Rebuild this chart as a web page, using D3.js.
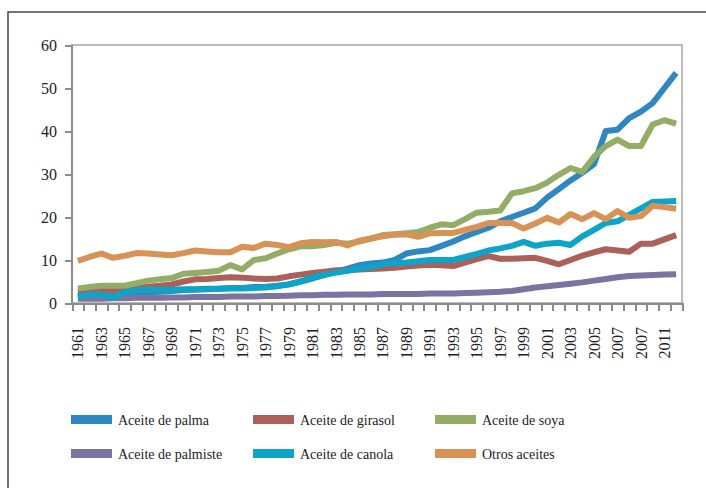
<!doctype html>
<html>

<head>
    <style>
        body {
            margin: 0;
            background: #fff;
        }

        text {
            font-family: "Liberation Serif", serif;
            fill: #222;
        }

        .axis path,
        .axis line {
            stroke: #8c8c8c;
            stroke-width: 2px;
            shape-rendering: crispEdges;
        }

        .axis text {
            font-size: 16px;
            fill: #222;
            font-family: "Liberation Serif", serif;
        }

        .series {
            fill: none;
            stroke-width: 6px;
            stroke-linejoin: round;
        }

        .legend text {
            font-size: 14px;
        }
    </style>
    <script src="https://d3js.org/d3.v7.min.js"></script>
</head>

<body>
    <script>
        // years on the category axis
        const years = d3.range(1961, 2013)
        // labelled years (the source repeats 2007 where 2009 should be)
        const labelYears = d3.range(1961, 2013, 2)
        const tickLabels = ["1961", "1963", "1965", "1967", "1969", "1971", "1973", "1975", "1977", "1979",
            "1981", "1983", "1985", "1987", "1989", "1991", "1993", "1995", "1997", "1999",
            "2001", "2003", "2005", "2007", "2007", "2011"]
        const yTicks = [0, 10, 20, 30, 40, 50, 60]

        const seriesNames = ["Aceite de palma", "Aceite de girasol", "Aceite de soya",
            "Aceite de palmiste", "Aceite de canola", "Otros aceites"]
        const seriesColors = ["#2e87c0", "#ad5f59", "#93ad67", "#7b73a0", "#0ca5c9", "#d99256"]

        const palma = [1.5, 1.7, 1.8, 1.9, 2.0, 2.3, 2.5, 2.6, 2.8, 3.0,
            3.1, 3.2, 3.3, 3.5, 3.5, 3.7, 3.8, 4.0, 4.3, 5.0,
            5.7, 6.5, 7.3, 8.0, 8.8, 9.2, 9.4, 10.0, 11.5, 12.0,
            12.3, 13.3, 14.3, 15.5, 16.5, 17.5, 19.0, 20.0, 21.0, 22.0,
            24.5, 26.5, 28.5, 30.3, 32.3, 40.0, 40.3, 43.0, 44.5, 46.5,
            50.0, 53.5]
        const girasol = [2.5, 2.8, 3.0, 3.0, 3.2, 3.5, 3.8, 4.0, 4.3, 5.0,
            5.5, 5.6, 5.8, 6.0, 5.9, 5.7, 5.6, 5.7, 6.2, 6.6,
            7.0, 7.3, 7.6, 7.6, 7.8, 7.9, 8.0, 8.2, 8.5, 8.7,
            8.9, 8.8, 8.6, 9.4, 10.2, 10.9, 10.3, 10.3, 10.4, 10.5,
            9.8, 9.0, 10.0, 11.0, 11.8, 12.5, 12.2, 11.9, 13.8, 13.8,
            14.8, 15.8]
        const soya = [3.4, 3.7, 4.0, 4.0, 4.0, 4.6, 5.2, 5.5, 5.8, 6.8,
            7.0, 7.2, 7.5, 8.8, 7.8, 10.0, 10.4, 11.5, 12.5, 13.2,
            13.2, 13.5, 14.0, 13.8, 14.3, 15.0, 15.8, 16.0, 16.2, 16.5,
            17.5, 18.3, 18.1, 19.5, 21.0, 21.2, 21.5, 25.5, 26.0, 26.7,
            28.0, 29.8, 31.4, 30.5, 34.0, 36.5, 38.0, 36.5, 36.5, 41.5,
            42.5, 41.7]
        const palmiste = [1.0, 1.0, 1.0, 1.1, 1.1, 1.2, 1.2, 1.2, 1.3, 1.3,
            1.4, 1.4, 1.4, 1.5, 1.5, 1.5, 1.6, 1.6, 1.7, 1.8,
            1.8, 1.9, 1.9, 2.0, 2.0, 2.0, 2.1, 2.1, 2.1, 2.1,
            2.2, 2.2, 2.2, 2.3, 2.4, 2.5, 2.6, 2.8, 3.2, 3.6,
            3.9, 4.2, 4.5, 4.8, 5.2, 5.6, 6.0, 6.3, 6.4, 6.5,
            6.6, 6.7]
        const canola = [1.5, 2.0, 2.0, 1.3, 2.5, 3.0, 3.1, 3.1, 3.1, 3.2,
            3.2, 3.3, 3.3, 3.4, 3.4, 3.5, 3.6, 3.9, 4.4, 5.0,
            6.0, 6.6, 7.1, 7.5, 8.0, 8.4, 9.0, 9.3, 9.4, 9.7,
            10.0, 10.0, 10.0, 10.7, 11.4, 12.2, 12.7, 13.3, 14.2, 13.3,
            13.8, 14.0, 13.5, 15.5, 17.0, 18.6, 19.0, 20.5, 22.0, 23.5,
            23.6, 23.7]
        const otros = [9.8, 10.7, 11.5, 10.5, 11.0, 11.6, 11.5, 11.3, 11.1, 11.6,
            12.2, 12.0, 11.8, 11.8, 13.1, 12.8, 13.8, 13.5, 13.0, 13.9,
            14.2, 14.1, 14.2, 13.4, 14.5, 15.0, 15.5, 15.9, 16.0, 15.4,
            16.2, 16.3, 16.3, 17.0, 17.7, 18.6, 18.6, 18.6, 17.3, 18.5,
            19.8, 18.7, 20.7, 19.5, 20.9, 19.5, 21.4, 19.8, 20.2, 22.6,
            22.3, 21.9]

        const seriesValues = [palma, girasol, soya, palmiste, canola, otros]

        const W = 706, H = 488
        const svg = d3.select("body").append("svg")
            .attr("width", W)
            .attr("height", H)

        // outer frame (runs off the right and bottom edges)
        svg.append("rect")
            .attr("x", 8).attr("y", 12)
            .attr("width", W).attr("height", H)
            .attr("fill", "none")
            .attr("stroke", "#444")
            .attr("stroke-width", 1.5)

        const plotLeft = 72, plotRight = 682, plotTop = 45, plotBottom = 303

        const x = d3.scaleBand().domain(years).range([plotLeft, plotRight]).padding(0)
        const xEdge = d3.scaleLinear().domain([0, years.length]).range([plotLeft, plotRight])
        const y = d3.scaleLinear().domain([0, 60]).range([plotBottom, plotTop])

        // plot area box
        svg.append("rect")
            .attr("x", plotLeft).attr("y", plotTop)
            .attr("width", plotRight - plotLeft).attr("height", plotBottom - plotTop)
            .attr("fill", "none")
            .attr("stroke", "#a6a6a6")
            .attr("stroke-width", 1.5)

        const yAxis = svg.append("g")
            .attr("class", "axis")
            .attr("transform", `translate(${plotLeft},0)`)
            .call(d3.axisLeft(y).tickValues(yTicks).tickSize(7).tickPadding(8))
        yAxis.select(".domain").attr("d", `M0,${plotTop}V${plotBottom}`)

        // tick marks between categories
        svg.append("g")
            .attr("class", "axis")
            .attr("transform", `translate(0,${plotBottom})`)
            .call(d3.axisBottom(xEdge).tickValues(d3.range(years.length + 1)).tickFormat("").tickSize(8).tickSizeOuter(0))

        // rotated year labels
        const xLabels = svg.append("g")
            .attr("class", "axis")
            .attr("transform", `translate(0,${plotBottom})`)
            .call(d3.axisBottom(x).tickValues(labelYears)
                .tickFormat((d, i) => tickLabels[i]).tickSize(0))
        xLabels.select(".domain").remove()
        xLabels.selectAll("text")
            .attr("transform", "rotate(-90)")
            .attr("x", -24)
            .attr("y", 0)
            .attr("dy", "0.35em")
            .style("text-anchor", "end")

        const line = d3.line()
            .x((d, i) => x(years[i]) + x.bandwidth() / 2)
            .y(d => y(d))

        svg.append("g")
            .selectAll("path")
            .data(seriesValues)
            .enter()
            .append("path")
            .attr("class", "series")
            .attr("stroke", (d, i) => seriesColors[i])
            .attr("d", d => line(d))

        // legend, three columns by two rows
        const colX = [71, 253, 435]
        const rowY = [420, 454]
        const legend = svg.append("g").attr("class", "legend")
            .selectAll("g")
            .data(seriesNames)
            .enter()
            .append("g")
            .attr("transform", (d, i) => `translate(${colX[i % 3]},${rowY[Math.floor(i / 3)]})`)
        legend.append("rect")
            .attr("x", 0).attr("y", -5)
            .attr("width", 41).attr("height", 9)
            .attr("fill", (d, i) => seriesColors[i])
        legend.append("text")
            .attr("x", 47)
            .attr("y", 5)
            .text(d => d)
    </script>
</body>

</html>
